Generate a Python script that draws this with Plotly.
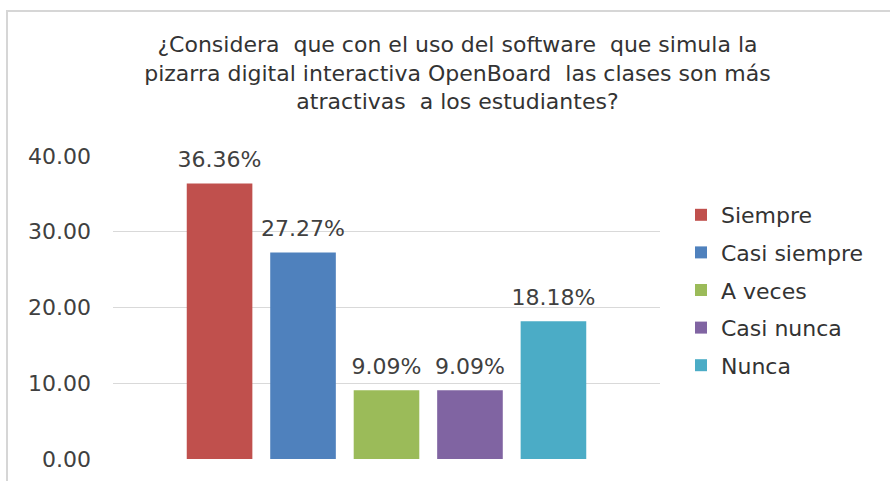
import plotly.graph_objects as go

categories = ["Siempre", "Casi siempre", "A veces", "Casi nunca", "Nunca"]
values = [36.36, 27.27, 9.09, 9.09, 18.18]
labels = ["36.36%", "27.27%", "9.09%", "9.09%", "18.18%"]
colors = ["#C0504D", "#4F81BD", "#9BBB59", "#8064A2", "#4BACC6"]
y_ticks = [0, 10, 20, 30, 40]
title_text = ("¿Considera  que con el uso del software  que simula la<br>"
              "pizarra digital interactiva OpenBoard  las clases son más<br>"
              "atractivas  a los estudiantes?")

FONT = "DejaVu Sans, Verdana, sans-serif"

fig = go.Figure()
for name, v, c in zip(categories, values, colors):
    fig.add_trace(go.Bar(
        x=[""], y=[v], name=name, offsetgroup=name,
        marker=dict(color=c, line=dict(width=0)),
        legendgroup=name,
    ))
for name, v, lab in zip(categories, values, labels):
    fig.add_trace(go.Scatter(
        x=[""], y=[v], text=[lab], mode="text+markers", offsetgroup=name,
        marker=dict(size=16, opacity=0),
        textposition="top center",
        textfont=dict(size=22, color="#404040", family=FONT),
        showlegend=False, legendgroup=name, cliponaxis=False, hoverinfo="skip",
    ))

W, H = 890, 481
L, R, T, B = 113, 230, 156, 22
pw, ph = W - L - R, H - T - B

fig.update_layout(
    width=W, height=H,
    margin=dict(l=L, r=R, t=T, b=B, autoexpand=False),
    paper_bgcolor="white", plot_bgcolor="white",
    font=dict(family=FONT, color="#404040"),
    barmode="group", bargap=0.237, bargroupgap=0.214,
    scattermode="group", scattergap=0.237,
    title=dict(text=title_text, x=0.514, xanchor="center", y=0.892, yanchor="middle",
               font=dict(size=22, color="#333333", family=FONT)),
    showlegend=True,
    legend=dict(x=(681 - L) / pw, xanchor="left", y=(459 - 194) / ph, yanchor="top",
                font=dict(size=22, color="#333333", family=FONT), tracegroupgap=6,
                traceorder="grouped", bgcolor="rgba(0,0,0,0)"),
    xaxis=dict(showticklabels=False, showgrid=False, zeroline=False, showline=False),
    yaxis=dict(range=[0, 40], tickvals=y_ticks, tickformat=".2f",
               showgrid=True, gridcolor="#D9D9D9", gridwidth=1, zeroline=False,
               showline=False, ticks="", tickfont=dict(size=22, color="#404040", family=FONT),
               ticklabelstandoff=21),
)

fig.add_shape(type="rect", xref="paper", yref="paper",
              x0=(7 - L) / pw, x1=(905 - L) / pw,
              y0=(459 - 500) / ph, y1=(459 - 11) / ph,
              line=dict(color="#D6D6D6", width=2), fillcolor="rgba(0,0,0,0)", layer="below")

fig.write_html("out.html", config={"displayModeBar": False},
               post_script="document.body.style.margin='0';")
